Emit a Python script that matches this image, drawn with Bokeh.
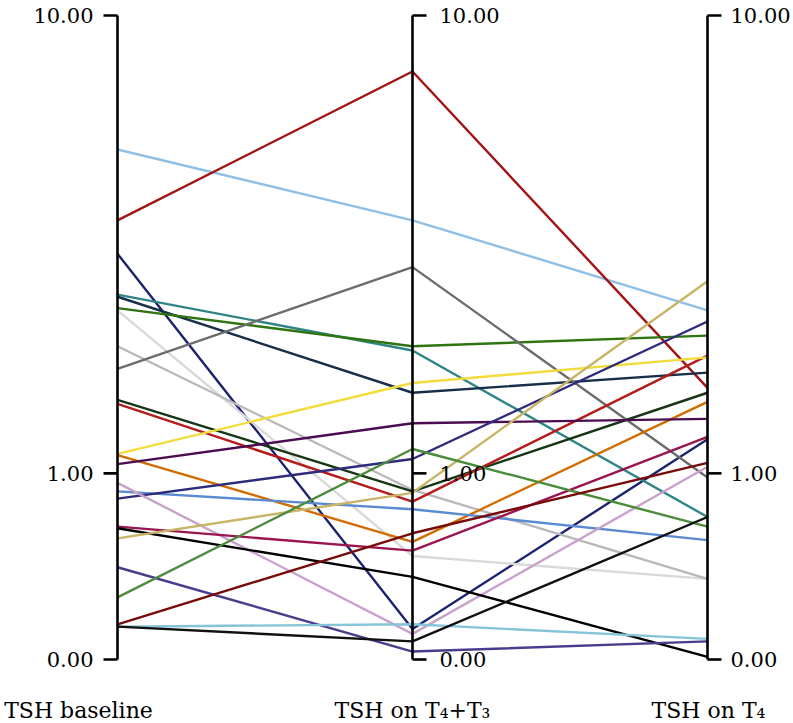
import math
from bokeh.plotting import figure
from bokeh.models import ColumnDataSource, Range1d
from bokeh.core.properties import value
from bokeh.embed import file_html
from bokeh.resources import INLINE

# Category axes
categories = ["TSH baseline", "TSH on T\u2084+T\u2083", "TSH on T\u2084"]

# TSH values per patient at each stage
tsh_baseline = [5.68, 4.13, 3.53, 2.89, 2.86, 2.70, 2.67, 2.21, 1.95, 1.63, 1.59, 1.15, 1.14,
                1.07, 0.87, 0.82, 0.93, 0.64, 0.63, 0.57, 0.41, 0.26, 0.14, 0.13, 0.13]
tsh_t4t3 = [4.13, 7.93, 0.12, 2.16, 1.70, 2.21, 0.47, 0.88, 3.31, 0.87, 0.80, 1.80, 0.55,
            1.41, 0.75, 1.11, 0.10, 0.50, 0.36, 0.86, 0.03, 1.19, 0.60, 0.14, 0.07]
tsh_t4 = [2.67, 1.75, 1.27, 0.70, 1.91, 2.34, 0.35, 0.35, 0.97, 1.70, 2.10, 2.08, 1.61,
          1.45, 0.56, 2.52, 1.05, 1.29, 0.01, 3.09, 0.07, 0.64, 1.08, 0.08, 0.70]
line_colors = ["#8ebfe6", "#a01414", "#1c2470", "#2f8585", "#16304a", "#2e7410", "#d9d9d9",
               "#b9b9b9", "#6c6c6c", "#163616", "#b41c1c", "#f2dc3c", "#d26c00", "#4c0c52",
               "#5a8ad0", "#2e2a7c", "#c9a2cc", "#9a1450", "#000000", "#c8b466", "#4a3c8c",
               "#4c8c3c", "#780a0a", "#86c4da", "#101010"]

tick_values = [0.0, 1.0, 10.0]
tick_labels = ["0.00", "1.00", "10.00"]

FONT = value("DejaVu Serif")
FS_TICK = value("21px")
FS_CAT = value("22px")

W, H = 792, 722

# each axis value v is shown on a log scale of (v + 1)
xs = [[0, 1, 2] for _ in tsh_baseline]
ys = [[a + 1, b + 1, c + 1] for a, b, c in zip(tsh_baseline, tsh_t4t3, tsh_t4)]
src = ColumnDataSource(dict(xs=xs, ys=ys, color=line_colors))
ticks = [t + 1 for t in tick_values]

# view window (frame covers whole canvas)
x0_px, axis_gap_px = 117.0, 295.0
x_start = -x0_px / axis_gap_px
x_end = (W - x0_px) / axis_gap_px
px_per_decade = 618.4
bottom_px = 659.0
y_top = 10 ** (bottom_px / px_per_decade)
y_bot = 10 ** (-(H - bottom_px) / px_per_decade)

p = figure(width=W, height=H, min_border=0,
           x_range=Range1d(x_start, x_end), y_range=Range1d(y_bot, y_top), y_axis_type="log",
           output_backend="svg", toolbar_location=None,
           x_axis_location=None, y_axis_location=None)
p.grid.visible = False
p.outline_line_color = None
p.background_fill_color = "white"
p.border_fill_color = "white"

p.multi_line("xs", "ys", source=src, line_color="color", line_width=2.4)

# the three vertical axes
axis_x = [0, 1, 2]
p.segment(x0=axis_x, y0=[ticks[0]] * 3, x1=axis_x, y1=[ticks[-1]] * 3,
          line_color="black", line_width=2.6)

tick_x, tick_y, tick_ang = [], [], []
for ax in axis_x:
    for t in ticks:
        tick_x.append(ax)
        tick_y.append(t)
        tick_ang.append(math.pi if ax == 0 else 0.0)
p.ray(x=tick_x, y=tick_y, angle=tick_ang, length=14, length_units="screen",
      line_color="black", line_width=2.6)

# tick labels
p.text(x=[0] * 3, y=ticks, text=tick_labels, x_offset=-24, text_align="right",
       text_baseline="middle", text_font=FONT, text_font_size=FS_TICK, text_color="black")
p.text(x=[1] * 3, y=ticks, text=tick_labels, x_offset=27, text_align="left",
       text_baseline="middle", text_font=FONT, text_font_size=FS_TICK, text_color="black")
p.text(x=[2] * 3, y=ticks, text=tick_labels, x_offset=23, text_align="left",
       text_baseline="middle", text_font=FONT, text_font_size=FS_TICK, text_color="black")

# category labels
cat_src = ColumnDataSource(dict(x=axis_x, y=[ticks[0]] * 3, text=categories,
                                dx=[-39, 0, 1]))
p.text(x="x", y="y", text="text", x_offset="dx", y_offset=51, source=cat_src,
       text_align="center", text_baseline="alphabetic",
       text_font=FONT, text_font_size=FS_CAT, text_color="black")

open("out.html", "w").write(file_html(p, INLINE))
